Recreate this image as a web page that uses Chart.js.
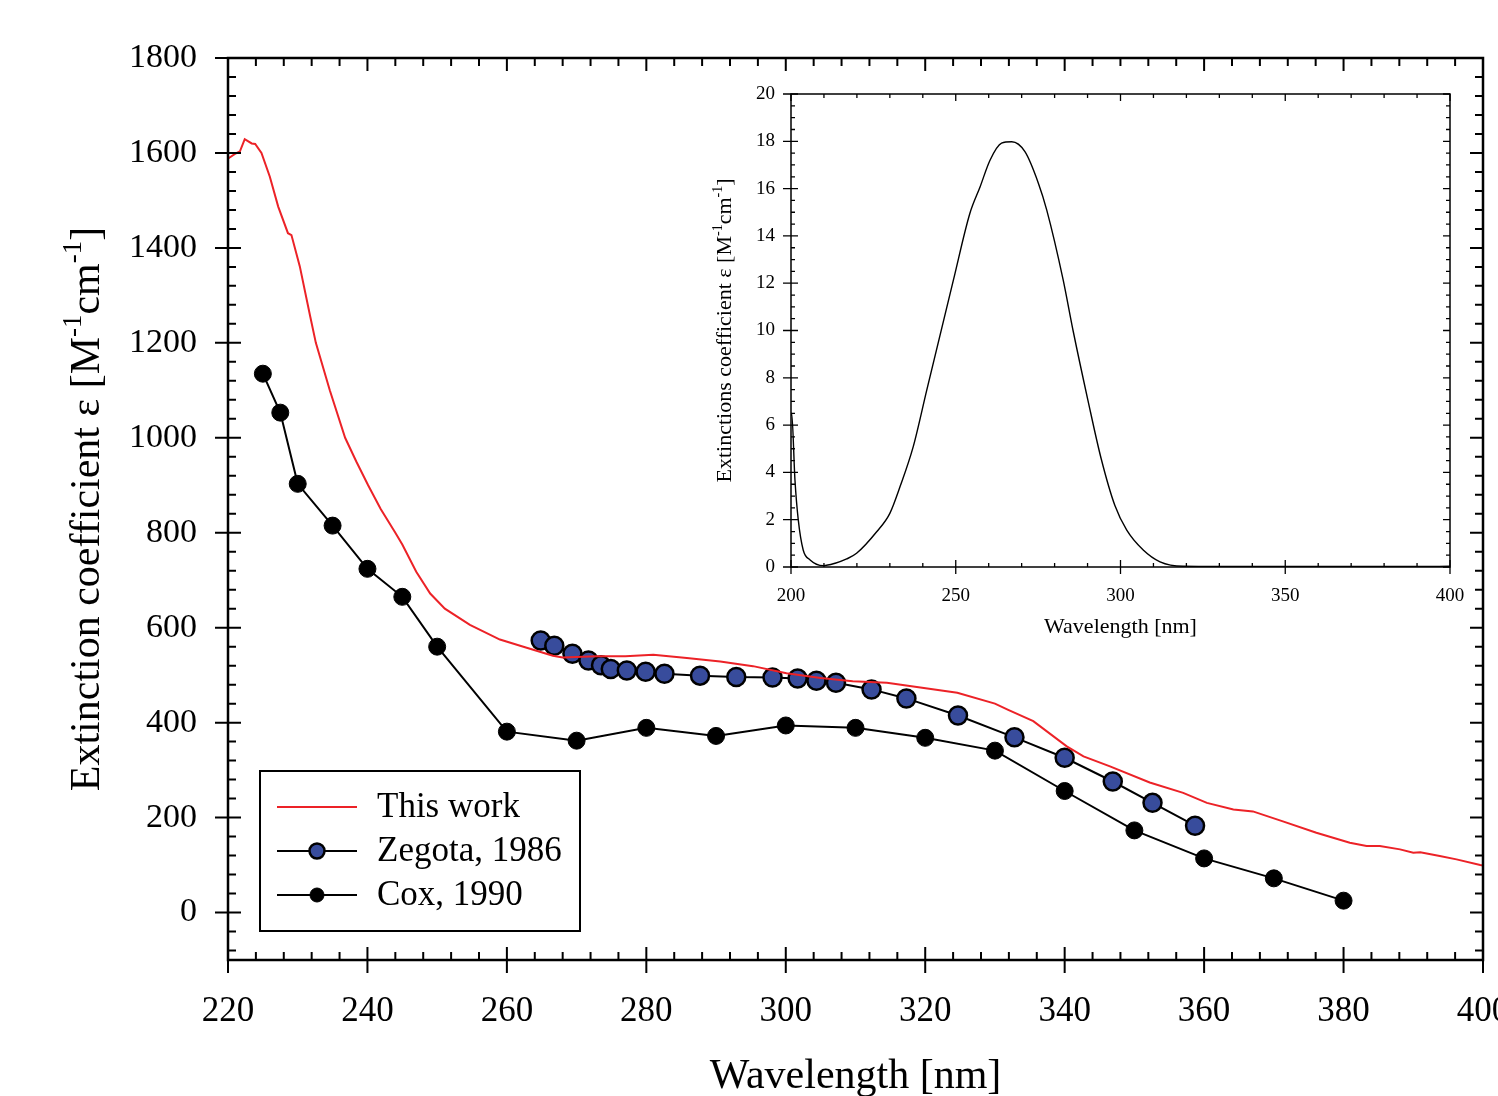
<!DOCTYPE html>
<html lang="en">
<head>
    <meta charset="UTF-8">
    <title>Extinction coefficient</title>
    <script src="https://cdn.jsdelivr.net/npm/chart.js"></script>
    <style>
        body { margin: 0; background: #fff; }
        #wrap { position: relative; width: 1498px; height: 1096px; overflow: hidden; }
        #mainChart { position: absolute; left: 0; top: 0; }
        #insetChart { position: absolute; left: 680px; top: 70px; }
    </style>
</head>
<body>
<div id="wrap">
    <canvas id="mainChart" width="1498" height="1096"></canvas>
    <canvas id="insetChart" width="800" height="580"></canvas>
</div>

<script type=text/javascript>
    // ---- main plot data ----
    const thisWorkNm  = [219.9, 221.0, 221.7, 222.4, 223.4, 223.9, 224.8, 226.0, 227.2, 228.6, 229.1, 230.3, 231.8, 232.6, 234.6, 236.8, 238.4, 240.1, 241.9, 244.0, 245.0, 247.0, 249.0, 251.1, 254.7, 259.0, 261.9, 266.6, 268.0, 272.9, 277.0, 281.0, 285.8, 290.6, 295.3, 300.1, 305.0, 309.6, 314.5, 319.3, 324.6, 330.0, 331.9, 335.5, 340.3, 342.7, 346.5, 352.2, 357.0, 360.4, 364.2, 367.0, 371.3, 376.1, 380.9, 383.3, 385.2, 388.1, 390.0, 391.0, 393.8, 396.2, 399.6, 400.0];
    const thisWorkEps = [1587, 1598, 1603, 1629, 1620, 1619, 1600, 1550, 1487, 1431, 1427, 1361, 1255, 1200, 1100, 1000, 950, 900, 850, 800, 775, 718, 672, 640, 606, 575, 562, 541, 537, 540, 540, 543, 536, 529, 519, 504, 494, 487, 484, 474, 463, 440, 427, 403, 350, 329, 308, 274, 252, 231, 217, 213, 192, 168, 147, 140, 140, 133, 126, 127, 119, 112, 100, 99];

    const zegotaNm  = [264.85, 266.8, 269.4, 271.7, 273.5, 274.9, 277.2, 279.9, 282.6, 287.7, 292.9, 298.1, 301.7, 304.4, 307.2, 312.3, 317.3, 324.7, 332.8, 340.0, 346.9, 352.6, 358.7];
    const zegotaEps = [573, 562, 545, 531, 521, 513, 510, 507, 503, 499, 496, 495, 493, 488, 484, 470, 451, 415, 369, 326, 276, 231, 183];

    const coxNm  = [225, 227.5, 230, 235, 240, 245, 250, 260, 270, 280, 290, 300, 310, 320, 330, 340, 350, 360, 370, 380];
    const coxEps = [1135, 1053, 903, 815, 724, 665, 560, 381, 362, 389, 372, 394, 389, 368, 341, 256, 173, 114, 72, 25];

    const xTicks = [220, 240, 260, 280, 300, 320, 340, 360, 380, 400];
    const yTicks = [0, 200, 400, 600, 800, 1000, 1200, 1400, 1600, 1800];

    // ---- inset data ----
    const insetNm  = [200.0, 200.2, 201.2, 202.2, 203.7, 205.8, 209.8, 213.4, 216.9, 219.9, 226.0, 230.0, 233.1, 237.1, 241.2, 249.3, 254.3, 257.4, 260.4, 263.9, 267.0, 271.0, 275.1, 277.6, 282.6, 285.6, 290.1, 294.1, 298.3, 301.9, 306.9, 312.0, 319.0, 330, 350, 370, 390, 400];
    const insetEps = [6.4, 6.5, 3.68, 2.0, 0.72, 0.3, 0.06, 0.16, 0.34, 0.58, 1.49, 2.27, 3.4, 5.09, 7.48, 12.14, 14.96, 16.08, 17.2, 17.92, 17.98, 17.56, 16.22, 15.1, 12.14, 10.0, 7.06, 4.6, 2.6, 1.56, 0.72, 0.22, 0.03, 0.02, 0.02, 0.02, 0.02, 0.03];

    const insetXTicks = [200, 250, 300, 350, 400];
    const insetYTicks = [0, 2, 4, 6, 8, 10, 12, 14, 16, 18, 20];

    Chart.defaults.font.family = "'Liberation Serif', 'Times New Roman', serif";
    Chart.defaults.color = '#000';

    function pts(xs, ys) {
        return xs.map((v, i) => ({x: v, y: ys[i]}));
    }

    function isMajor(scale, v) {
        return scale.ticks.some(t => Math.abs(t.value - v) < 1e-6);
    }

    // box round the plot with tick marks in and out
    const framePlugin = {
        id: 'frame',
        afterDraw(chart, args, o) {
            const ctx = chart.ctx;
            const a = chart.chartArea;
            const x = chart.scales.x, y = chart.scales.y;
            ctx.save();
            ctx.strokeStyle = '#000';
            ctx.lineCap = 'butt';
            ctx.lineWidth = o.tickWidth;
            ctx.beginPath();
            for (const t of x.ticks) {
                const px = x.getPixelForValue(t.value);
                ctx.moveTo(px, a.bottom + o.bottomOut); ctx.lineTo(px, a.bottom - o.majorIn);
                ctx.moveTo(px, a.top); ctx.lineTo(px, a.top + o.majorIn);
            }
            for (const t of y.ticks) {
                const py = y.getPixelForValue(t.value);
                ctx.moveTo(a.left - o.leftOut, py); ctx.lineTo(a.left + o.majorIn, py);
                ctx.moveTo(a.right, py); ctx.lineTo(a.right - o.majorIn, py);
            }
            for (let v = Math.ceil(x.min / o.xMinor) * o.xMinor; v <= x.max + 1e-9; v += o.xMinor) {
                if (isMajor(x, v)) continue;
                const px = x.getPixelForValue(v);
                ctx.moveTo(px, a.bottom); ctx.lineTo(px, a.bottom - o.minorIn);
                ctx.moveTo(px, a.top); ctx.lineTo(px, a.top + o.minorIn);
            }
            for (let v = Math.ceil(y.min / o.yMinor) * o.yMinor; v <= y.max + 1e-9; v += o.yMinor) {
                if (isMajor(y, v)) continue;
                const py = y.getPixelForValue(v);
                ctx.moveTo(a.left, py); ctx.lineTo(a.left + o.minorIn, py);
                ctx.moveTo(a.right, py); ctx.lineTo(a.right - o.minorIn, py);
            }
            ctx.stroke();
            ctx.lineWidth = o.axisWidth;
            ctx.strokeRect(a.left, a.top, a.right - a.left, a.bottom - a.top);
            ctx.restore();
        }
    };

    // axis titles, with superscripts where needed
    function drawRich(ctx, parts, size, supSize, raise, x, y, rotate) {
        ctx.save();
        ctx.translate(x, y);
        if (rotate) ctx.rotate(-Math.PI / 2);
        ctx.textBaseline = 'alphabetic';
        ctx.fillStyle = '#000';
        let total = 0;
        const widths = parts.map(p => {
            ctx.font = (p[1] ? supSize : size) + "px 'Liberation Serif'";
            const w = ctx.measureText(p[0]).width;
            total += w;
            return w;
        });
        let cx = -total / 2;
        parts.forEach((p, i) => {
            ctx.font = (p[1] ? supSize : size) + "px 'Liberation Serif'";
            ctx.fillText(p[0], cx, p[1] ? -raise : 0);
            cx += widths[i];
        });
        ctx.restore();
    }

    const titlePlugin = {
        id: 'titles',
        afterDraw(chart, args, o) {
            const a = chart.chartArea;
            const cx = (a.left + a.right) / 2, cy = (a.top + a.bottom) / 2;
            drawRich(chart.ctx, [[o.xTitle, 0]], o.size, o.supSize, 0, cx, o.xTitleY, false);
            drawRich(chart.ctx, o.yTitle, o.size, o.supSize, o.raise, o.yTitleX, cy, true);
        }
    };

    const legendPlugin = {
        id: 'boxLegend',
        afterDraw(chart, args, o) {
            if (!o.show) return;
            const ctx = chart.ctx;
            ctx.save();
            ctx.strokeStyle = '#000';
            ctx.lineWidth = 2;
            ctx.strokeRect(o.left, o.top, o.width, o.height);
            chart.data.datasets.forEach((ds, i) => {
                const ly = o.top + o.first + i * o.step;
                ctx.strokeStyle = ds.borderColor;
                ctx.lineWidth = ds.borderWidth;
                ctx.beginPath();
                ctx.moveTo(o.left + 17, ly);
                ctx.lineTo(o.left + 97, ly);
                ctx.stroke();
                if (ds.pointRadius > 0) {
                    ctx.beginPath();
                    ctx.arc(o.left + 57, ly, ds.pointRadius - 1.5, 0, Math.PI * 2);
                    ctx.fillStyle = ds.pointBackgroundColor;
                    ctx.fill();
                    ctx.lineWidth = ds.pointBorderWidth;
                    ctx.strokeStyle = ds.pointBorderColor;
                    ctx.stroke();
                }
                ctx.fillStyle = '#000';
                ctx.font = o.fontSize + "px 'Liberation Serif'";
                ctx.textBaseline = 'middle';
                ctx.fillText(ds.label, o.left + 117, ly + 1);
            });
            ctx.restore();
        }
    };

    function fixWidth(w) {
        return function(scale) {
            scale.width = w;
            scale.paddingTop = 0; scale.paddingBottom = 0;
        };
    }
    function fixHeight(h) {
        return function(scale) {
            scale.height = h;
            scale.paddingLeft = 0; scale.paddingRight = 0;
        };
    }
    function setTicks(values) {
        return function(scale) {
            scale.ticks = values.map(v => ({value: v}));
        };
    }
    const plain = v => String(v);

    // ---- main chart ----
    new Chart(document.getElementById('mainChart').getContext('2d'), {
        type: 'line',
        data: {
            datasets: [
                {
                    label: 'This work',
                    data: pts(thisWorkNm, thisWorkEps),
                    borderColor: 'rgb(236, 34, 39)',
                    borderWidth: 2,
                    pointRadius: 0,
                    tension: 0
                },
                {
                    label: 'Zegota, 1986',
                    data: pts(zegotaNm, zegotaEps),
                    borderColor: '#000',
                    borderWidth: 2,
                    pointRadius: 9,
                    pointBackgroundColor: 'rgb(56, 76, 156)',
                    pointBorderColor: '#000',
                    pointBorderWidth: 2.5,
                    tension: 0
                },
                {
                    label: 'Cox, 1990',
                    data: pts(coxNm, coxEps),
                    borderColor: '#000',
                    borderWidth: 2,
                    pointRadius: 8.5,
                    pointBackgroundColor: '#000',
                    pointBorderColor: '#000',
                    pointBorderWidth: 1,
                    tension: 0
                }
            ]
        },
        options: {
            responsive: false,
            animation: false,
            events: [],
            layout: { padding: { left: 0, top: 58, right: 15, bottom: 0 } },
            scales: {
                x: {
                    type: 'linear',
                    min: 220, max: 400,
                    grid: { display: false, drawTicks: false },
                    border: { display: false },
                    ticks: { font: { size: 35 }, padding: 31, maxRotation: 0, callback: plain },
                    afterBuildTicks: setTicks(xTicks),
                    afterFit: fixHeight(136)
                },
                y: {
                    type: 'linear',
                    min: -100, max: 1800,
                    grid: { display: false, drawTicks: false },
                    border: { display: false },
                    ticks: { font: { size: 34 }, padding: 31, callback: plain },
                    afterBuildTicks: setTicks(yTicks),
                    afterFit: fixWidth(228)
                }
            },
            plugins: {
                legend: { display: false },
                tooltip: { enabled: false },
                frame: { axisWidth: 2.5, tickWidth: 2, majorIn: 13, minorIn: 8, bottomOut: 13, leftOut: 13, xMinor: 4, yMinor: 40 },
                titles: {
                    xTitle: 'Wavelength [nm]', xTitleY: 1088,
                    yTitle: [['Extinction coefficient \u03b5 [M', 0], ['-1', 1], ['cm', 0], ['-1', 1], [']', 0]],
                    yTitleX: 99, size: 42, supSize: 27, raise: 18
                },
                boxLegend: { show: true, left: 260, top: 771, width: 320, height: 160, first: 36, step: 44, fontSize: 35 }
            }
        },
        plugins: [framePlugin, titlePlugin, legendPlugin]
    });

    // ---- inset chart ----
    new Chart(document.getElementById('insetChart').getContext('2d'), {
        type: 'line',
        data: {
            datasets: [
                {
                    label: 'inset',
                    data: pts(insetNm, insetEps),
                    borderColor: '#000',
                    borderWidth: 1.4,
                    pointRadius: 0,
                    cubicInterpolationMode: 'monotone'
                }
            ]
        },
        options: {
            responsive: false,
            animation: false,
            events: [],
            layout: { padding: { left: 0, top: 24, right: 30, bottom: 0 } },
            scales: {
                x: {
                    type: 'linear',
                    min: 200, max: 400,
                    grid: { display: false, drawTicks: false },
                    border: { display: false },
                    ticks: { font: { size: 19 }, padding: 18, maxRotation: 0, callback: plain },
                    afterBuildTicks: setTicks(insetXTicks),
                    afterFit: fixHeight(83)
                },
                y: {
                    type: 'linear',
                    min: 0, max: 20,
                    grid: { display: false, drawTicks: false },
                    border: { display: false },
                    ticks: { font: { size: 19 }, padding: 16, callback: plain },
                    afterBuildTicks: setTicks(insetYTicks),
                    afterFit: fixWidth(111)
                }
            },
            plugins: {
                legend: { display: false },
                tooltip: { enabled: false },
                frame: { axisWidth: 1.5, tickWidth: 1.3, majorIn: 7, minorIn: 4, bottomOut: 7, leftOut: 8, xMinor: 10, yMinor: 0.5 },
                titles: {
                    xTitle: 'Wavelength [nm]', xTitleY: 563,
                    yTitle: [['Extinctions coefficient \u03b5 [M', 0], ['-1', 1], ['cm', 0], ['-1', 1], [']', 0]],
                    yTitleX: 51, size: 22, supSize: 14, raise: 9
                },
                boxLegend: { show: false }
            }
        },
        plugins: [framePlugin, titlePlugin, legendPlugin]
    });
</script>
</body>
</html>
